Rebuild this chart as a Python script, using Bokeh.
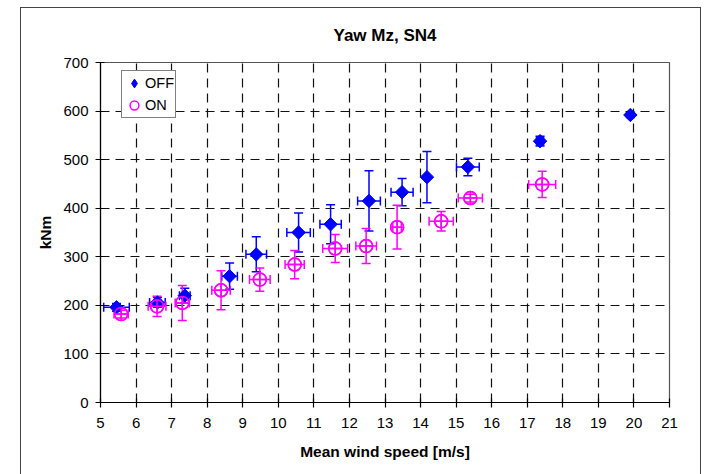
from bokeh.plotting import figure
from bokeh.models import (ColumnDataSource, Whisker, TeeHead, Legend, LegendItem,
                          FixedTicker, Range1d)
from bokeh.embed import file_html
from bokeh.resources import INLINE

# Yaw moment Mz at SN4 versus mean wind speed, controller OFF / ON
off_speed = [5.45, 6.60, 7.37, 8.63, 9.38, 10.57, 11.47, 12.55, 13.48, 14.18, 15.33, 17.36, 19.90]
off_moment = [196, 206, 220, 260, 305, 350, 367, 415, 433, 464, 485, 538, 592]
off_speed_err = [0.36, 0.22, 0.15, 0.22, 0.29, 0.33, 0.30, 0.32, 0.31, 0.05, 0.32, 0.10, 0.05]
off_moment_err = [8, 10, 15, 27, 36, 40, 40, 62, 28, 53, 18, 10, 5]

on_speed = [5.58, 6.59, 7.30, 8.39, 9.48, 10.46, 11.60, 12.47, 13.34, 14.58, 15.40, 17.42]
on_moment = [182, 198, 205, 231, 253, 284, 317, 322, 361, 373, 421, 449]
on_speed_err = [0.20, 0.25, 0.20, 0.26, 0.29, 0.27, 0.35, 0.29, 0.12, 0.34, 0.34, 0.38]
on_moment_err = [8, 21, 36, 40, 24, 29, 29, 36, 45, 20, 8, 27]

x_ticks = list(range(5, 22))
y_ticks = list(range(0, 701, 100))

FONT = "Liberation Sans"
BLUE = "#0000FF"
MAGENTA = "#FF00FF"


def make_source(x, y, xe, ye):
    return ColumnDataSource(dict(
        x=x, y=y,
        xl=[a - e for a, e in zip(x, xe)], xu=[a + e for a, e in zip(x, xe)],
        yl=[a - e for a, e in zip(y, ye)], yu=[a + e for a, e in zip(y, ye)],
    ))


off_src = make_source(off_speed, off_moment, off_speed_err, off_moment_err)
on_src = make_source(on_speed, on_moment, on_speed_err, on_moment_err)

p = figure(width=679, height=466, x_range=Range1d(5, 21), y_range=Range1d(0, 700),
           output_backend="svg", toolbar_location=None, title="Yaw Mz, SN4",
           min_border_left=79, min_border_right=31, min_border_top=54, min_border_bottom=72)

# the chart sits inside a thin outer frame
p.margin = (8, 0, 0, 21)
p.styles = {"outline": "1.3px solid #444444"}

p.background_fill_color = "white"
p.border_fill_color = "white"
p.outline_line_color = "#555555"
p.outline_line_width = 1.2

p.title.text_font = FONT
p.title.text_font_size = "17px"
p.title.text_font_style = "bold"
p.title.text_color = "#000000"
p.title.align = "center"
p.title.vertical_align = "top"
p.title.offset = -24
p.title.standoff = 32

# axes
p.xaxis.ticker = FixedTicker(ticks=x_ticks)
p.yaxis.ticker = FixedTicker(ticks=y_ticks)
for ax in (p.xaxis, p.yaxis):
    ax.axis_line_color = "#000000"
    ax.axis_line_width = 1.2
    ax.major_tick_line_color = "#000000"
    ax.major_tick_line_width = 1.2
    ax.major_tick_in = 4
    ax.major_tick_out = 5
    ax.minor_tick_line_color = None
    ax.major_label_text_font = FONT
    ax.major_label_text_font_size = "15px"
    ax.major_label_text_color = "#000000"
    ax.axis_label_text_font = FONT
    ax.axis_label_text_font_size = "15.5px"
    ax.axis_label_text_font_style = "bold"
    ax.axis_label_text_color = "#000000"
p.xaxis.axis_label = "Mean wind speed [m/s]"
p.yaxis.axis_label = "kNm"
p.xaxis.major_label_standoff = 10
p.yaxis.major_label_standoff = 7
p.xaxis.axis_label_standoff = 12
p.yaxis.axis_label_standoff = 6

# dashed grid
for g in (p.xgrid, p.ygrid):
    g.grid_line_color = "#111111"
    g.grid_line_width = 1.2
    g.grid_line_dash = "9 6"

# error bars
for src, color in ((off_src, BLUE), (on_src, MAGENTA)):
    p.add_layout(Whisker(source=src, base="x", lower="yl", upper="yu", dimension="height",
                         line_color=color, line_width=1.5,
                         lower_head=TeeHead(size=9, line_color=color, line_width=1.5),
                         upper_head=TeeHead(size=9, line_color=color, line_width=1.5)))
    p.add_layout(Whisker(source=src, base="y", lower="xl", upper="xu", dimension="width",
                         line_color=color, line_width=1.5,
                         lower_head=TeeHead(size=9, line_color=color, line_width=1.5),
                         upper_head=TeeHead(size=9, line_color=color, line_width=1.5)))

# legend swatches (drawn beneath the plotted markers, so they only show in the legend)
off_key = p.scatter("x", "y", source=off_src, marker="diamond", size=8,
                    fill_color=BLUE, line_color=BLUE)
on_key = p.scatter("x", "y", source=on_src, marker="circle", size=13,
                   fill_color=None, line_color=MAGENTA, line_width=1.5)

p.scatter("x", "y", source=off_src, marker="square", angle=0.785398, size=9.5,
          fill_color=BLUE, line_color=BLUE, line_width=1)
p.scatter("x", "y", source=on_src, marker="circle_cross", size=13,
          fill_color=None, line_color=MAGENTA, line_width=1.5)

legend = Legend(items=[LegendItem(label="OFF", renderers=[off_key]),
                       LegendItem(label="ON", renderers=[on_key])],
                location=(21, 284))
legend.border_line_color = "#000000"
legend.border_line_width = 1.2
legend.background_fill_color = "white"
legend.background_fill_alpha = 1
legend.label_text_font = FONT
legend.label_text_font_size = "14.5px"
legend.label_text_color = "#000000"
legend.padding = 1
legend.spacing = 0
legend.margin = 0
legend.glyph_width = 22
legend.glyph_height = 22
legend.label_height = 20
legend.label_standoff = 0
p.add_layout(legend)

open("out.html", "w").write(file_html(p, INLINE))
